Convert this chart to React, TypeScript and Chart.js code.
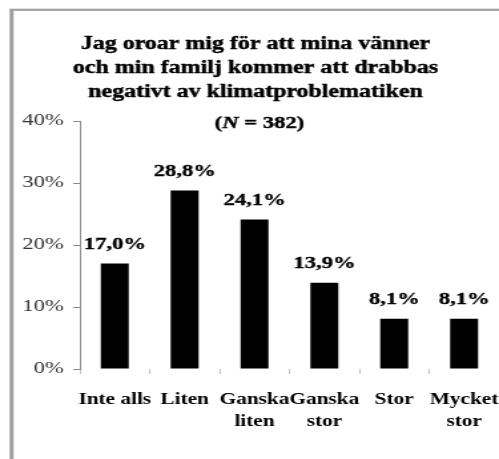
import { useEffect, useRef } from "react";
import { Chart, registerables } from "chart.js";

Chart.register(...registerables);

const categories: string[][] = [["Inte alls"], ["Liten"], ["Ganska", "liten"], ["Ganska", "stor"], ["Stor"], ["Mycket", "stor"]];
const values: number[] = [17.0, 28.8, 24.1, 13.9, 8.1, 8.1];
const valueLabels: string[] = ["17,0%", "28,8%", "24,1%", "13,9%", "8,1%", "8,1%"];
const yTickLabels: string[] = ["0%", "10%", "20%", "30%", "40%"];
const titleLines: string[] = [
  "Jag oroar mig för att mina vänner",
  "och min familj kommer att drabbas",
  "negativt av klimatproblematiken",
];
const nValue = "382";

const SERIF = "'Liberation Serif', 'Times New Roman', serif";

const decorPlugin = {
  id: "decor",
  beforeDraw(chart: any) {
    const ctx = chart.ctx as CanvasRenderingContext2D;
    ctx.save();
    ctx.fillStyle = "#ffffff";
    ctx.fillRect(0, 0, chart.width, chart.height);
    ctx.fillStyle = "#c8c8c8";
    ctx.fillRect(7, 9, 3.5, chart.height);
    ctx.fillRect(7, 8.5, chart.width, 2.5);
    ctx.fillStyle = "#999999";
    ctx.fillRect(7.7, 9.2, 2, chart.height);
    ctx.fillRect(7.7, 9.2, chart.width, 1.4);
    ctx.restore();
  },
  afterDraw(chart: any) {
    const ctx = chart.ctx as CanvasRenderingContext2D;
    ctx.save();
    ctx.fillStyle = "#000000";
    ctx.strokeStyle = "#000000";
    ctx.lineWidth = 0.4;
    ctx.textAlign = "center";
    ctx.textBaseline = "alphabetic";
    ctx.font = `bold 18px ${SERIF}`;
    const cx = 192;
    const baselines = [49, 73, 97];
    titleLines.forEach((line, i) => {
      ctx.fillText(line, cx, baselines[i]);
      ctx.strokeText(line, cx, baselines[i]);
    });
    ctx.textAlign = "left";
    const fBold = `bold 17px ${SERIF}`;
    const fItal = `italic bold 17px ${SERIF}`;
    const parts: [string, string][] = [["(", fBold], ["N", fItal], [" = " + nValue + ")", fBold]];
    let total = 0;
    parts.forEach(([t, f]) => { ctx.font = f; total += ctx.measureText(t).width; });
    let x = 195 - total / 2;
    parts.forEach(([t, f]) => {
      ctx.font = f;
      ctx.fillText(t, x, 128);
      ctx.strokeText(t, x, 128);
      x += ctx.measureText(t).width;
    });
    ctx.restore();
  },
};

const valueLabelPlugin = {
  id: "valueLabels",
  afterDatasetsDraw(chart: any) {
    const ctx = chart.ctx as CanvasRenderingContext2D;
    const meta = chart.getDatasetMeta(0);
    ctx.save();
    ctx.fillStyle = "#000000";
    ctx.strokeStyle = "#000000";
    ctx.lineWidth = 0.3;
    ctx.font = `bold 17px ${SERIF}`;
    ctx.textAlign = "center";
    ctx.textBaseline = "middle";
    meta.data.forEach((bar: any, i: number) => {
      ctx.fillText(valueLabels[i], bar.x, bar.y - 19);
      ctx.strokeText(valueLabels[i], bar.x, bar.y - 19);
    });
    ctx.restore();
  },
};

export default function App() {
  const ref = useRef<HTMLCanvasElement | null>(null);
  useEffect(() => {
    if (!ref.current) return;
    const chart = new Chart(ref.current, {
      type: "bar",
      data: {
        labels: categories,
        datasets: [
          {
            data: values,
            backgroundColor: "#000000",
            borderWidth: 0,
            categoryPercentage: 1,
            barPercentage: 0.4,
          },
        ],
      },
      options: {
        animation: false,
        responsive: false,
        devicePixelRatio: 1,
        layout: { padding: { top: 121, left: 0, right: 0, bottom: 0 } },
        plugins: {
          legend: { display: false },
          title: { display: false },
          tooltip: { enabled: false },
        },
        scales: {
          x: {
            offset: true,
            border: { display: false },
            grid: {
              offset: true,
              drawOnChartArea: false,
              drawTicks: true,
              tickLength: 5,
              color: "#c0c0c0",
            },
            ticks: {
              autoSkip: false,
              maxRotation: 0,
              minRotation: 0,
              padding: 15,
              color: "#000000",
              font: { family: SERIF, size: 16, weight: "bold", lineHeight: 1.375 },
            },
            afterFit: (s: any) => {
              s.height = 90;
              s.paddingLeft = 0;
              s.paddingRight = 0;
            },
          },
          y: {
            min: 0,
            max: 40,
            border: { display: true, color: "#8a8a8a", width: 1 },
            grid: {
              drawOnChartArea: false,
              drawTicks: true,
              tickLength: 5,
              color: "#8a8a8a",
            },
            ticks: {
              stepSize: 10,
              padding: 7,
              color: "#333333",
              font: { family: SERIF, size: 17 },
              callback: (_v: any, i: number) => yTickLabels[i],
            },
            afterFit: (s: any) => {
              s.width = 60;
            },
          },
        },
      },
      plugins: [decorPlugin, valueLabelPlugin],
    } as any);
    return () => chart.destroy();
  }, []);
  return (
    <canvas
      ref={ref}
      width={375}
      height={459}
      style={{ position: "fixed", left: 0, top: 0, width: "499px", height: "459px", display: "block" }}
    />
  );
}
